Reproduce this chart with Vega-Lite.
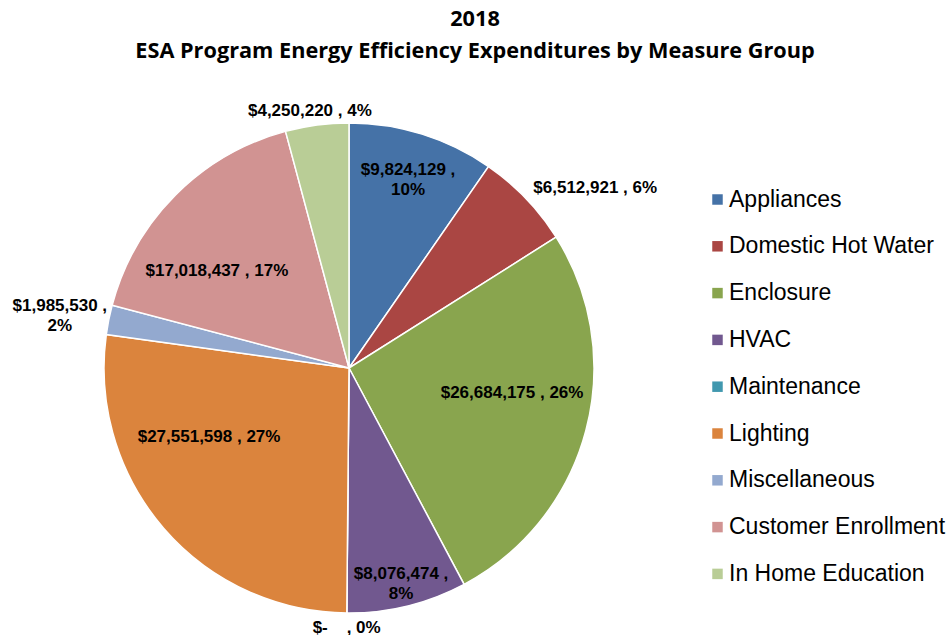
{
  "$schema": "https://vega.github.io/schema/vega-lite/v6.json",
  "autosize": {"type": "none"},
  "padding": {"left": 0, "top": 123, "right": 248, "bottom": 22},
  "width": 698,
  "height": 490,
  "background": "white",
  "title": {
    "text": ["2018", "ESA Program Energy Efficiency Expenditures by Measure Group"],
    "font": "Open Sans",
    "fontWeight": "bold",
    "fontSize": 21.7,
    "color": "black",
    "anchor": "middle",
    "dx": 126,
    "lineHeight": 32,
    "offset": -9
  },
  "config": {"view": {"stroke": null}},
  "data": {
    "values": [
      {"idx": 1, "group": "Appliances", "amount": 9824129, "label": "$9,824,129 ,\n10%"},
      {"idx": 2, "group": "Domestic Hot Water", "amount": 6512921, "label": "$6,512,921 , 6%"},
      {"idx": 3, "group": "Enclosure", "amount": 26684175, "label": "$26,684,175 , 26%"},
      {"idx": 4, "group": "HVAC", "amount": 8076474, "label": "$8,076,474 ,\n8%"},
      {"idx": 5, "group": "Maintenance", "amount": 0, "label": "$-\u00a0\u00a0\u00a0\u00a0, 0%"},
      {"idx": 6, "group": "Lighting", "amount": 27551598, "label": "$27,551,598 , 27%"},
      {"idx": 7, "group": "Miscellaneous", "amount": 1985530, "label": "$1,985,530 ,\n2%"},
      {"idx": 8, "group": "Customer Enrollment", "amount": 17018437, "label": "$17,018,437 , 17%"},
      {"idx": 9, "group": "In Home Education", "amount": 4250220, "label": "$4,250,220 , 4%"}
    ]
  },
  "encoding": {
    "theta": {"field": "amount", "type": "quantitative", "stack": true},
    "order": {"field": "idx", "type": "quantitative"}
  },
  "layer": [
    {
      "mark": {"type": "arc", "stroke": "white", "strokeWidth": 1.5},
      "encoding": {
        "color": {
          "field": "group",
          "type": "nominal",
          "scale": {
            "domain": ["Appliances", "Domestic Hot Water", "Enclosure", "HVAC", "Maintenance", "Lighting", "Miscellaneous", "Customer Enrollment", "In Home Education"],
            "range": ["#4572A7", "#AA4643", "#89A54E", "#71588F", "#4198AF", "#DB843D", "#93A9CF", "#D19392", "#B9CD96"]
          },
          "legend": {
            "title": null,
            "orient": "none",
            "legendX": 706,
            "legendY": 65,
            "symbolType": "square",
            "symbolSize": 110,
            "symbolStrokeWidth": 0,
            "labelFont": "Liberation Sans",
            "labelFontSize": 23,
            "labelColor": "black",
            "labelOffset": 0,
            "rowPadding": 22.8,
            "labelLimit": 300
          }
        }
      }
    },
    {
      "mark": {"type": "text", "radius": 198, "dy": -9, "font": "Liberation Sans", "fontWeight": "bold", "fontSize": 17, "lineBreak": "\n", "lineHeight": 20, "color": "black"},
      "encoding": {"text": {"condition": {"test": "datum.group === 'Appliances'", "field": "label"}, "value": ""}}
    },
    {
      "mark": {"type": "text", "radius": 305, "thetaOffset": 0.133, "font": "Liberation Sans", "fontWeight": "bold", "fontSize": 17, "lineBreak": "\n", "lineHeight": 20, "color": "black"},
      "encoding": {"text": {"condition": {"test": "datum.group === 'Domestic Hot Water'", "field": "label"}, "value": ""}}
    },
    {
      "mark": {"type": "text", "radius": 165, "thetaOffset": -0.106, "font": "Liberation Sans", "fontWeight": "bold", "fontSize": 17, "lineBreak": "\n", "lineHeight": 20, "color": "black"},
      "encoding": {"text": {"condition": {"test": "datum.group === 'Enclosure'", "field": "label"}, "value": ""}}
    },
    {
      "mark": {"type": "text", "radius": 219, "dy": -7, "font": "Liberation Sans", "fontWeight": "bold", "fontSize": 17, "lineBreak": "\n", "lineHeight": 20, "color": "black"},
      "encoding": {"text": {"condition": {"test": "datum.group === 'HVAC'", "field": "label"}, "value": ""}}
    },
    {
      "mark": {"type": "text", "radius": 260, "font": "Liberation Sans", "fontWeight": "bold", "fontSize": 17, "lineBreak": "\n", "lineHeight": 20, "color": "black"},
      "encoding": {"text": {"condition": {"test": "datum.group === 'Maintenance'", "field": "label"}, "value": ""}}
    },
    {
      "mark": {"type": "text", "radius": 156, "thetaOffset": 0.255, "font": "Liberation Sans", "fontWeight": "bold", "fontSize": 17, "lineBreak": "\n", "lineHeight": 20, "color": "black"},
      "encoding": {"text": {"condition": {"test": "datum.group === 'Lighting'", "field": "label"}, "value": ""}}
    },
    {
      "mark": {"type": "text", "radius": 294, "thetaOffset": -0.017, "dy": -9, "font": "Liberation Sans", "fontWeight": "bold", "fontSize": 17, "lineBreak": "\n", "lineHeight": 20, "color": "black"},
      "encoding": {"text": {"condition": {"test": "datum.group === 'Miscellaneous'", "field": "label"}, "value": ""}}
    },
    {
      "mark": {"type": "text", "radius": 164, "thetaOffset": -0.15, "font": "Liberation Sans", "fontWeight": "bold", "fontSize": 17, "lineBreak": "\n", "lineHeight": 20, "color": "black"},
      "encoding": {"text": {"condition": {"test": "datum.group === 'Customer Enrollment'", "field": "label"}, "value": ""}}
    },
    {
      "mark": {"type": "text", "radius": 260, "thetaOffset": -0.02, "font": "Liberation Sans", "fontWeight": "bold", "fontSize": 17, "lineBreak": "\n", "lineHeight": 20, "color": "black"},
      "encoding": {"text": {"condition": {"test": "datum.group === 'In Home Education'", "field": "label"}, "value": ""}}
    }
  ]
}
